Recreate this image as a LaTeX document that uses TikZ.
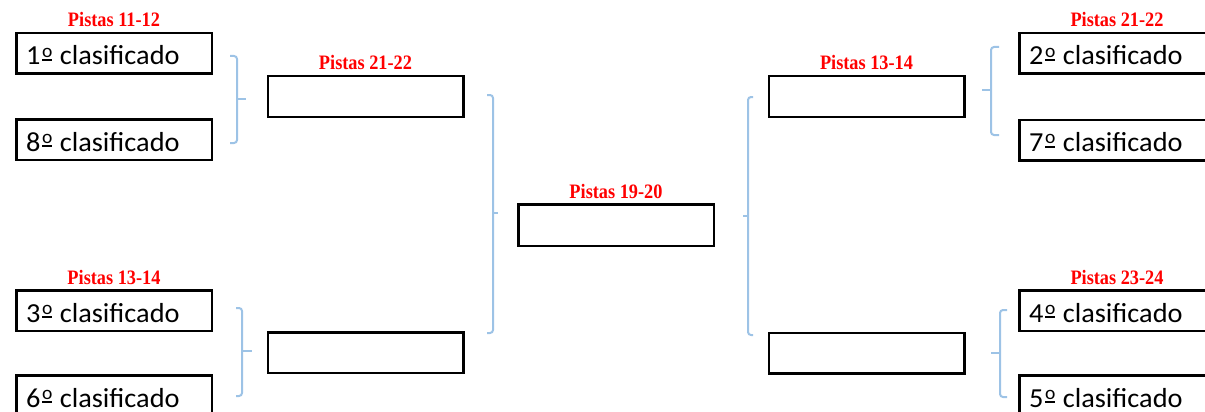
\documentclass[tikz,border=0pt]{standalone}
\usepackage{fontspec}
\usepackage{graphicx}
\setmainfont{Carlito}
\newfontfamily\labfont{Liberation Serif}
\definecolor{bracecol}{HTML}{9DC3E6}
\definecolor{labred}{HTML}{FF0000}
\newcommand\ordmark{\kern1.5pt\raisebox{4pt}{\vbox{\hbox{\fontsize{19}{19}\selectfont o}\kern1.6pt\hrule height 1.8pt}}\kern1pt}
\begin{document}
\begin{tikzpicture}[x=1pt,y=-1pt,
  seedbox/.style={draw=black,line width=2.5pt,minimum width=195.5pt,minimum height=40.5pt,inner sep=0pt},
  seedtext/.style={anchor=base west,inner sep=0pt,font=\fontsize{27.5}{27.5}\selectfont},
  pista/.style={anchor=base,inner sep=0pt,text=labred,font=\labfont\bfseries\fontsize{18.3}{18.3}\selectfont},
  brace/.style={draw=bracecol,line width=2pt,rounded corners=3pt}]
\useasboundingbox (0,0) rectangle (1205,412);
% first round boxes (left)
\node[seedbox] (a1) at (114,53.5) {};
\node[seedbox] (a8) at (114,139.5) {};
\node[seedbox] (a3) at (114,310.5) {};
\node[seedbox] (a6) at (114,395.5) {};
% first round boxes (right)
\node[seedbox] (b2) at (1117,53.5) {};
\node[seedbox] (b7) at (1117,140) {};
\node[seedbox] (b4) at (1117,310.5) {};
\node[seedbox] (b5) at (1117,395.5) {};
% second round
\node[seedbox] (l2t) at (365.5,96.5) {};
\node[seedbox] (l2b) at (365.5,352.5) {};
\node[seedbox] (r2t) at (866.5,96.5) {};
\node[seedbox] (r2b) at (866.5,353) {};
% final
\node[seedbox,minimum height=41.5pt] (fin) at (616,225) {};
% seed texts
\node[seedtext] (t1) at ([xshift=11pt,yshift=-33pt]a1.north west) {\scalebox{1.03}[1]{1\ordmark\ clasificado}};
\node[seedtext] (t8) at ([xshift=11pt,yshift=-33pt]a8.north west) {\scalebox{1.03}[1]{8\ordmark\ clasificado}};
\node[seedtext] (t3) at ([xshift=11pt,yshift=-33pt]a3.north west) {\scalebox{1.03}[1]{3\ordmark\ clasificado}};
\node[seedtext] (t6) at ([xshift=11pt,yshift=-33pt]a6.north west) {\scalebox{1.03}[1]{6\ordmark\ clasificado}};
\node[seedtext] (t2) at ([xshift=11pt,yshift=-33pt]b2.north west) {\scalebox{1.03}[1]{2\ordmark\ clasificado}};
\node[seedtext] (t7) at ([xshift=11pt,yshift=-33pt]b7.north west) {\scalebox{1.03}[1]{7\ordmark\ clasificado}};
\node[seedtext] (t4) at ([xshift=11pt,yshift=-33pt]b4.north west) {\scalebox{1.03}[1]{4\ordmark\ clasificado}};
\node[seedtext] (t5) at ([xshift=11pt,yshift=-33pt]b5.north west) {\scalebox{1.03}[1]{5\ordmark\ clasificado}};
% court labels
\node[pista] (p1) at ([yshift=5pt]a1.north) {\scalebox{1}[1.12]{Pistas 11-12}};
\node[pista] (p2) at ([yshift=5pt]a3.north) {\scalebox{1}[1.12]{Pistas 13-14}};
\node[pista] (p3) at ([yshift=5pt]l2t.north) {\scalebox{1}[1.12]{Pistas 21-22}};
\node[pista] (p4) at ([yshift=5pt]fin.north) {\scalebox{1}[1.12]{Pistas 19-20}};
\node[pista] (p5) at ([yshift=5pt]r2t.north) {\scalebox{1}[1.12]{Pistas 13-14}};
\node[pista] (p6) at ([yshift=5pt]b2.north) {\scalebox{1}[1.12]{Pistas 21-22}};
\node[pista] (p7) at ([yshift=5pt]b4.north) {\scalebox{1}[1.12]{Pistas 23-24}};
% braces left
\draw[brace] (230,56) -- (237,56) -- (237,143) -- (230,143);
\draw[brace] (237,99) -- (246,99);
\draw[brace] (236,308) -- (242,308) -- (242,396) -- (236,396);
\draw[brace] (242,351) -- (252,351);
\draw[brace] (487,95) -- (493,95) -- (493,333) -- (487,333);
\draw[brace] (493,213) -- (498,213);
% braces right
\draw[brace] (753,97) -- (748,97) -- (748,335) -- (753,335);
\draw[brace] (748,216) -- (743,216);
\draw[brace] (999,47) -- (991,47) -- (991,135) -- (999,135);
\draw[brace] (991,90) -- (982,90);
\draw[brace] (1007,310) -- (1000,310) -- (1000,397) -- (1007,397);
\draw[brace] (1000,353) -- (991,353);
\end{tikzpicture}
\end{document}
